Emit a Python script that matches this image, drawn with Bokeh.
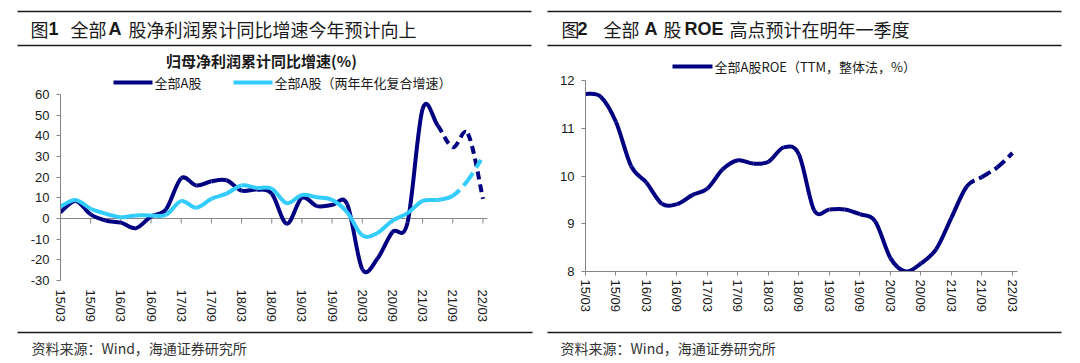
from bokeh.plotting import figure
from bokeh.models import Range1d, FixedTicker, Span
from bokeh.layouts import row, column
from bokeh.embed import file_html
from bokeh.resources import INLINE
from bokeh.core.properties import value

# ---------------- data ----------------
quarters = ["15/03", "15/06", "15/09", "15/12", "16/03", "16/06", "16/09", "16/12",
            "17/03", "17/06", "17/09", "17/12", "18/03", "18/06", "18/09", "18/12",
            "19/03", "19/06", "19/09", "19/12", "20/03", "20/06", "20/09", "20/12",
            "21/03", "21/06", "21/09", "21/12", "22/03"]

profit_yoy = [3, 8.5, 2, -1, -2, -4.7, 1, 4.5,
              19.5, 16, 18, 18.5, 13.5, 14, 12, -2.5,
              10, 6, 6.5, 7, -24.5, -19.5, -6.5, -2,
              53, 45, 34.5, 41, 9.5]
profit_cagr2y = [5.8, 9, 4.7, 2.3, 0.6, 1.5, 1.5, 1.8,
                 8.4, 5.2, 9.5, 12, 16, 14.8, 14.4, 7.4,
                 11.4, 10.3, 9, 3, -8.2, -7, -1, 2.6,
                 8.5, 9, 11, 18.5, 30]
roe = [11.72, 11.66, 11.13, 10.2, 9.86, 9.42, 9.41, 9.6,
       9.74, 10.14, 10.33, 10.26, 10.3, 10.6, 10.45, 9.28,
       9.3, 9.3, 9.2, 9.05, 8.28, 8.0, 8.17, 8.47,
       9.13, 9.78, 9.98, 10.18, 10.48]

profit_actual_last = "21/06"
cagr_actual_last = "21/09"
roe_actual_last = "21/06"

y1_ticks = [-30, -20, -10, 0, 10, 20, 30, 40, 50, 60]
y2_ticks = [8, 9, 10, 11, 12]

title1_parts = ["图", "1", "全部", "A", "股净利润累计同比增速今年预计向上"]
title2_parts = ["图", "2", "全部", "A", "股", "ROE", "高点预计在明年一季度"]
chart1_title = "归母净利润累计同比增速(%)"
legend1 = ["全部A股", "全部A股（两年年化复合增速）"]
legend2 = "全部A股ROE（TTM，整体法，%）"
source_text = "资料来源：Wind，海通证券研究所"

# ---------------- styles ----------------
DARK = "#000080"
LIGHT = "#33CCFF"
AXIS = "#868686"
TXT = "#1a1a1a"
CJK = "Noto Sans CJK SC"
LAT = "Liberation Sans"


def smooth(xs, ys, i0, i1):
    """Excel-like smoothed curve as cubic bezier segments between points i0..i1."""
    n = len(xs)
    d = dict(x0=[], y0=[], x1=[], y1=[], cx0=[], cy0=[], cx1=[], cy1=[])
    for i in range(i0, i1):
        a = max(i - 1, 0)
        b = min(i + 2, n - 1)
        d["x0"].append(xs[i]); d["y0"].append(ys[i])
        d["x1"].append(xs[i + 1]); d["y1"].append(ys[i + 1])
        d["cx0"].append(xs[i] + (xs[i + 1] - xs[a]) / 6.0)
        d["cy0"].append(ys[i] + (ys[i + 1] - ys[a]) / 6.0)
        d["cx1"].append(xs[i + 1] - (xs[b] - xs[i]) / 6.0)
        d["cy1"].append(ys[i + 1] - (ys[b] - ys[i]) / 6.0)
    return d


def draw_series(p, ys, last_actual, color, width, dash):
    xs = list(range(len(ys)))
    k = quarters.index(last_actual)
    p.bezier(**smooth(xs, ys, 0, k), line_color=color, line_width=width)
    p.bezier(**smooth(xs, ys, k, len(ys) - 1), line_color=color, line_width=width,
             line_dash=dash)


def blank(width, height):
    f = figure(width=width, height=height, x_range=Range1d(0, width), y_range=Range1d(height, 0),
               output_backend="svg", toolbar_location=None, x_axis_location=None,
               y_axis_location=None, min_border=0, outline_line_color=None,
               frame_align=False)
    f.min_border_left = f.min_border_right = f.min_border_top = f.min_border_bottom = 0
    f.xgrid.visible = False
    f.ygrid.visible = False
    return f


def txt(f, x, y, s, font, size, bold=False, color=TXT, align="left"):
    f.text(x=[x], y=[y], text=[s], text_font=value(font), text_font_size=value(size),
           text_font_style="bold" if bold else "normal", text_color=color,
           text_baseline="middle", text_align=align)


def rule(f, x0, x1, y):
    f.segment(x0=[x0], y0=[y], x1=[x1], y1=[y], line_color="#1a1a1a", line_width=1.6)


def style_axes(p):
    p.xgrid.visible = False
    p.ygrid.visible = False
    p.outline_line_color = None
    for ax in (p.xaxis[0], p.yaxis[0]):
        ax.major_label_text_font = LAT
        ax.major_label_text_font_size = "13px"
        ax.major_label_text_color = TXT
        ax.minor_tick_line_color = None
        ax.axis_line_color = AXIS
        ax.major_tick_line_color = AXIS
        ax.major_tick_in = 0
        ax.major_tick_out = 4
    p.yaxis.major_label_standoff = 7
    p.xaxis.major_label_orientation = "vertical"
    p.xaxis.ticker = FixedTicker(ticks=list(range(0, len(quarters), 2)))
    p.xaxis.major_label_overrides = {i: quarters[i] for i in range(0, len(quarters), 2)}


class Frame:
    """pixel <-> data helper for placing the legend above the value area"""
    def __init__(self, left, px_per_x, top_px, top_val, px_per_y):
        self.left, self.kx, self.top, self.tv, self.ky = left, px_per_x, top_px, top_val, px_per_y

    def x(self, px):
        return (px - self.left) / self.kx

    def y(self, py):
        return self.tv + (self.top - py) / self.ky


def legend_entry(p, fr, x0, x1, y, label, color):
    p.segment(x0=[fr.x(x0)], y0=[fr.y(y)], x1=[fr.x(x1)], y1=[fr.y(y)],
              line_color=color, line_width=4)
    p.text(x=[fr.x(x1 + 2)], y=[fr.y(y)], text=[label], text_font=value(CJK),
           text_font_size=value("13px"), text_color=TXT, text_baseline="middle",
           text_align="left")


W = 540

# ================= left panel =================
H1 = 72
hl = blank(W, H1)
rule(hl, 17, 531, 11)
rule(hl, 17, 531, 45)
txt(hl, 30, 28, title1_parts[0], CJK, "18px")
txt(hl, 48, 28, title1_parts[1], LAT, "18px", bold=True)
txt(hl, 70, 28, title1_parts[2], CJK, "18px")
txt(hl, 108, 28, title1_parts[3], LAT, "18px", bold=True)
txt(hl, 128, 28, title1_parts[4], CJK, "18px")
txt(hl, 261, 60, chart1_title, CJK, "15px", bold=True, align="center")

# value area: image y 94 (=60) .. 280 (=-30); x: 60 (15/03) .. 487 (28.3)
kx1 = 427 / 28.3
ky1 = 186 / 90.0
f1 = Frame(60, kx1, 94, 60, ky1)
pl = figure(width=W, height=325 - H1, x_range=Range1d(0, 28.3),
            y_range=Range1d(-30, f1.y(H1)),
            output_backend="svg", toolbar_location=None, frame_align=False)
pl.min_border_left = 60
pl.min_border_right = 53
pl.min_border_top = 0
pl.min_border_bottom = 45
style_axes(pl)
pl.yaxis.ticker = FixedTicker(ticks=y1_ticks)
pl.yaxis.major_label_overrides = {t: str(t) for t in y1_ticks}
pl.yaxis.bounds = (-30, 60)
pl.xaxis.axis_line_color = None
pl.xaxis.major_tick_line_color = None
pl.xaxis.major_tick_out = 0
pl.xaxis.major_label_standoff = 9
zero = Span(location=0, dimension="width", line_color=AXIS, line_width=1, level="underlay")
pl.add_layout(zero)
tick_len = 5 / ky1
tx = list(range(0, len(quarters), 2))
pl.segment(x0=tx, y0=[0] * len(tx), x1=tx, y1=[-tick_len] * len(tx), line_color=AXIS, line_width=1)
draw_series(pl, profit_yoy, profit_actual_last, DARK, 4, "8 5")
draw_series(pl, profit_cagr2y, cagr_actual_last, LIGHT, 4, "9 6")
legend_entry(pl, f1, 113, 152, 82, legend1[0], DARK)
legend_entry(pl, f1, 233, 272, 82, legend1[1], LIGHT)

fl = blank(W, 38)
rule(fl, 17, 532, 7)
txt(fl, 31, 22, source_text, CJK, "14px", color="#333333")

# ================= right panel =================
H2 = 52
hr = blank(W, H2)
rule(hr, 7, 521, 11)
rule(hr, 7, 521, 45)
txt(hr, 21, 28, title2_parts[0], CJK, "18px")
txt(hr, 37, 28, title2_parts[1], LAT, "18px", bold=True)
txt(hr, 63, 28, title2_parts[2], CJK, "18px")
txt(hr, 104, 28, title2_parts[3], LAT, "18px", bold=True)
txt(hr, 123, 28, title2_parts[4], CJK, "18px")
txt(hr, 144, 28, title2_parts[5], LAT, "18px", bold=True)
txt(hr, 189, 28, title2_parts[6], CJK, "18px")

# value area: image y 80 (=12) .. 271 (=8); x: 585 (15/03) .. 1017 (28.33)
kx2 = 432 / 28.33
ky2 = 191 / 4.0
f2 = Frame(45, kx2, 80, 12, ky2)
pr = figure(width=W, height=325 - H2, x_range=Range1d(0, 28.33),
            y_range=Range1d(8, f2.y(H2)),
            output_backend="svg", toolbar_location=None, frame_align=False)
pr.min_border_left = 45
pr.min_border_right = 63
pr.min_border_top = 0
pr.min_border_bottom = 54
style_axes(pr)
pr.yaxis.ticker = FixedTicker(ticks=y2_ticks)
pr.yaxis.bounds = (8, 12)
pr.xaxis.major_label_standoff = 4
draw_series(pr, roe, roe_actual_last, DARK, 4, "10 5")
legend_entry(pr, f2, 132, 172, 66, legend2, DARK)

fr = blank(W, 38)
rule(fr, 7, 521, 7)
txt(fr, 20, 22, source_text, CJK, "14px", color="#333333")

layout = row(column(hl, pl, fl), column(hr, pr, fr))
open("out.html", "w").write(file_html(layout, INLINE))
